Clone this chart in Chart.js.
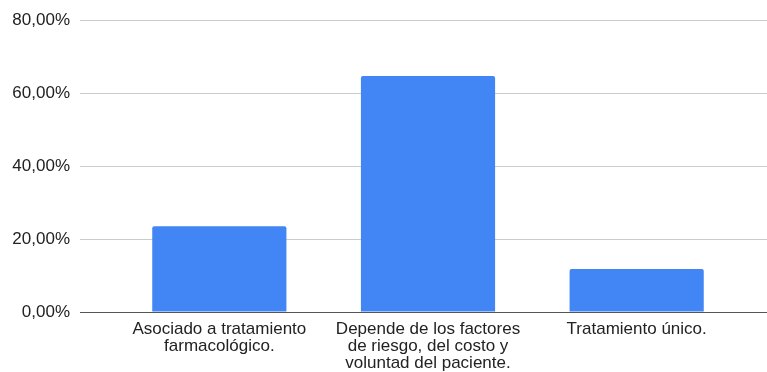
<!DOCTYPE html>
<html lang="es">
<head>
    <meta charset="UTF-8">
    <title>Tratamiento</title>
    <script src="https://cdn.jsdelivr.net/npm/chart.js"></script>
    <style>
        body { margin: 0; background: #fff; }
        #wrap { width: 767px; height: 372px; position: relative; }
    </style>
</head>
<body>
    <div id="wrap"><canvas id="barChart"></canvas></div>

    <script>
        const categories = [
            ['Asociado a tratamiento', 'farmacológico.'],
            ['Depende de los factores', 'de riesgo, del costo y', 'voluntad del paciente.'],
            ['Tratamiento único.']
        ];
        const values = [23.5, 64.7, 11.8];
        const yTicks = [0, 20, 40, 60, 80];

        const fmt = v => v.toFixed(2).replace('.', ',') + '%';
        const gridColor = ctx => ctx.tick && ctx.tick.value === 0 ? '#555555' : '#cccccc';
        const font = { family: '"Liberation Sans", Arial, sans-serif', size: 17 };

        new Chart(document.getElementById('barChart'), {
            type: 'bar',
            data: {
                labels: categories,
                datasets: [{
                    data: values,
                    backgroundColor: '#4285f4',
                    borderRadius: { topLeft: 2, topRight: 2 },
                    borderSkipped: 'bottom',
                    barPercentage: 0.643,
                    categoryPercentage: 1
                }]
            },
            options: {
                responsive: true,
                maintainAspectRatio: false,
                animation: false,
                layout: { padding: { top: 18, left: 0, right: 0, bottom: 0 } },
                plugins: { legend: { display: false }, tooltip: { enabled: false } },
                scales: {
                    x: {
                        grid: { display: false, drawTicks: false },
                        border: { display: false },
                        ticks: { color: '#222', font: { ...font, lineHeight: 1.0 }, padding: 9, maxRotation: 0, autoSkip: false },
                        afterFit: s => { s.height = 60; }
                    },
                    y: {
                        min: yTicks[0],
                        max: yTicks[yTicks.length - 1],
                        afterBuildTicks: s => { s.ticks = yTicks.map(v => ({ value: v })); },
                        grid: { color: gridColor, tickColor: gridColor, tickLength: 35, lineWidth: 1 },
                        border: { display: false },
                        ticks: { color: '#222', font: font, padding: 10, callback: v => fmt(v) },
                        afterFit: s => { s.width = 115; }
                    },
                    y2: {
                        position: 'right',
                        min: yTicks[0],
                        max: yTicks[yTicks.length - 1],
                        afterBuildTicks: s => { s.ticks = yTicks.map(v => ({ value: v })); },
                        grid: { color: gridColor, tickColor: gridColor, tickLength: 26, drawOnChartArea: false },
                        border: { display: false },
                        ticks: { display: false },
                        afterFit: s => { s.width = 26; }
                    }
                }
            }
        });
    </script>
</body>
</html>
